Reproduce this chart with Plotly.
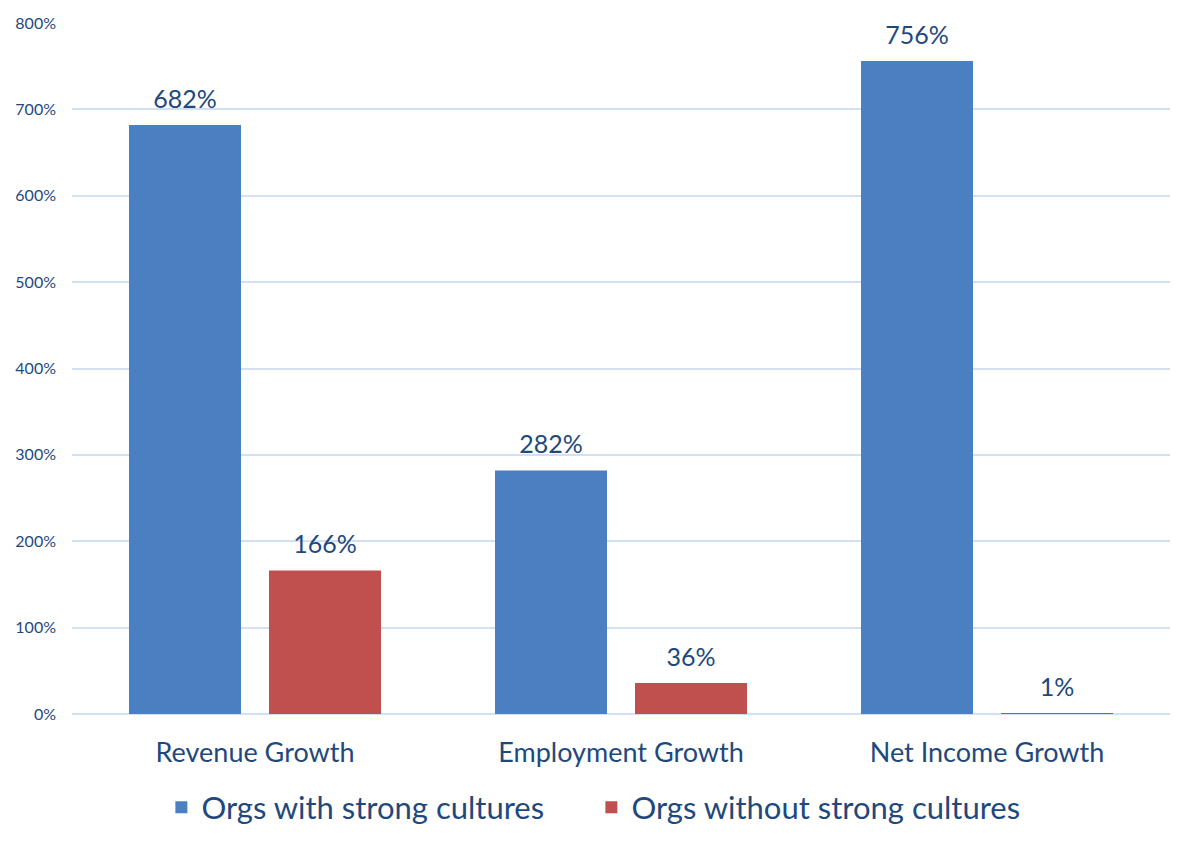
import plotly.graph_objects as go

categories = ["Revenue Growth", "Employment Growth", "Net Income Growth"]
strong = [682, 282, 756]
not_strong = [166, 36, 1]
series_names = ["Orgs with strong cultures", "Orgs without strong cultures"]
y_ticks = [0, 100, 200, 300, 400, 500, 600, 700, 800]

text_color = "#1f497d"
grid_color = "#d3e0f1"
colors = ["#4a7fc2", "#c0504d"]
gap = 0.235

fig = go.Figure()
for name, vals, col in zip(series_names, [strong, not_strong], colors):
    fig.add_trace(go.Bar(
        x=categories, y=vals, name=name,
        marker=dict(color=col, line=dict(width=0)),
    ))
# value labels: grouped scatter so they sit over each bar, a bit above the top
for vals in [strong, not_strong]:
    fig.add_trace(go.Scatter(
        x=categories, y=vals, mode="markers+text",
        marker=dict(size=16, opacity=0),
        text=[f"{v}%" for v in vals], textposition="top center",
        textfont=dict(size=25, color=text_color),
        showlegend=False, hoverinfo="skip", cliponaxis=False,
    ))

# the page body adds 8px, so margins are a bit smaller on top/left
fig.update_layout(
    width=1193, height=848,
    margin=dict(l=64, r=31, t=15, b=142, autoexpand=False),
    plot_bgcolor="white", paper_bgcolor="white",
    font=dict(family="Lato, Open Sans, sans-serif", color=text_color),
    barmode="group",
    bargap=gap,
    bargroupgap=0.2,
    scattermode="group",
    scattergap=gap,
    showlegend=True,
    legend=dict(
        orientation="h", xref="container", x=0.489, xanchor="center",
        yref="container", y=0.057, yanchor="middle",
        font=dict(size=31, color=text_color),
        itemwidth=30, entrywidth=385,
    ),
)
fig.update_xaxes(
    showgrid=False, showline=False, ticks="",
    tickfont=dict(size=27, color=text_color),
    ticklabelstandoff=20,
)
fig.update_yaxes(
    range=[0, 800], tickvals=y_ticks,
    ticktext=[f"{v}%" for v in y_ticks],
    showgrid=True, gridcolor=grid_color, gridwidth=2,
    zeroline=True, zerolinecolor=grid_color, zerolinewidth=2,
    showline=False, ticks="",
    tickfont=dict(size=16, color=text_color),
    ticklabelstandoff=15,
)

fig.write_html("out.html")
